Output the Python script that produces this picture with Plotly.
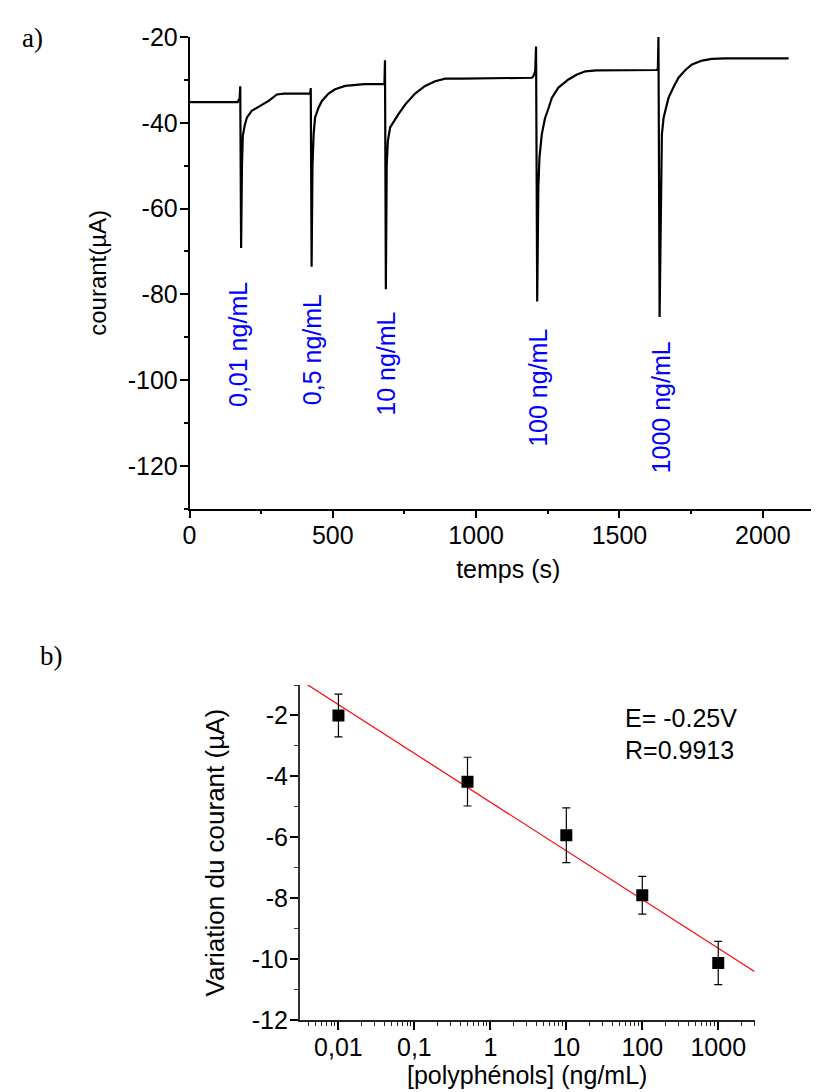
import numpy as np
import plotly.graph_objects as go

# ---------------- Data: panel a) chronoamperometry ----------------
time_s = [0, 168, 172, 175, 177, 180, 183, 186, 193, 200, 217, 241, 276, 305, 330,
          421, 423, 426, 429, 433, 438, 450, 462, 485, 508, 543, 578, 610,
          680, 682, 685, 688, 692, 700, 729, 753, 787, 822, 857, 892, 950,
          1195, 1200, 1206, 1209, 1213, 1217, 1221, 1229, 1240, 1253, 1264, 1287, 1322, 1350, 1381, 1420,
          1630, 1634, 1636, 1640, 1644, 1648, 1654, 1671, 1690, 1706, 1730, 1753, 1788, 1822, 1870, 2090]
current_uA = [-35.2, -35.2, -34.6, -34.4, -31.5, -69.2, -50.0, -43.0, -40.5, -38.8, -37.2, -36.3, -34.9, -33.4, -33.2,
              -33.2, -31.9, -73.6, -50.0, -42.7, -38.8, -36.5, -34.9, -33.2, -32.2, -31.4, -31.1, -31.0,
              -31.0, -25.4, -78.8, -50.0, -44.2, -41.1, -38.0, -35.7, -33.2, -31.4, -30.3, -29.7, -29.7,
              -29.5, -29.1, -28.0, -22.2, -81.7, -55.0, -48.0, -42.7, -39.0, -36.5, -34.2, -31.8, -29.9, -28.8, -28.0, -27.8,
              -27.7, -27.3, -20.0, -85.3, -55.0, -42.7, -38.8, -34.2, -31.5, -29.5, -27.7, -26.4, -25.5, -25.1, -25.0, -25.0]

time_ticks = [0, 500, 1000, 1500, 2000]
current_ticks = [-120, -100, -80, -60, -40, -20]
current_tick_text = ["-120", "-100", "-80", "-60", "-40", "-20"]

injection_labels = ["0,01 ng/mL", "0,5 ng/mL", "10 ng/mL", "100 ng/mL", "1000 ng/mL"]
injection_label_t = [171, 426, 687, 1218, 1646]
injection_label_y = [-91.7, -92.9, -96.1, -101.9, -106.3]

# ---------------- Data: panel b) calibration ----------------
conc_ng_mL = [0.01, 0.5, 10, 100, 1000]
delta_current_uA = [-2.0, -4.17, -5.93, -7.90, -10.12]
delta_err_uA = [0.70, 0.80, 0.90, 0.62, 0.71]

log_ticks = [0.01, 0.1, 1, 10, 100, 1000]
log_tick_text = ["0,01", "0,1", "1", "10", "100", "1000"]
delta_ticks = [-12, -10, -8, -6, -4, -2]
delta_tick_text = ["-12", "-10", "-8", "-6", "-4", "-2"]

# linear fit on log scale
slope, intercept = np.polyfit(np.log10(conc_ng_mL), delta_current_uA, 1)
fit_x = [0.0031, 3000]
fit_y = [intercept + slope * np.log10(v) for v in fit_x]

W, H = 819, 1092
FONT = "Liberation Sans, Arial, sans-serif"

fig = go.Figure()

fig.add_trace(go.Scatter(x=time_s, y=current_uA, mode="lines",
                         line=dict(color="black", width=2.2),
                         xaxis="x", yaxis="y", showlegend=False))

fig.add_trace(go.Scatter(x=fit_x, y=fit_y, mode="lines",
                         line=dict(color="red", width=1.2),
                         xaxis="x2", yaxis="y2", showlegend=False))

fig.add_trace(go.Scatter(x=conc_ng_mL, y=delta_current_uA, mode="markers",
                         marker=dict(symbol="square", size=12, color="black"),
                         error_y=dict(type="data", array=delta_err_uA, color="black",
                                      thickness=1.2, width=4),
                         xaxis="x2", yaxis="y2", showlegend=False))

axis_common = dict(showline=True, linecolor="black", linewidth=1.5, ticks="outside",
                   tickcolor="black", tickwidth=1.5, ticklen=8, showgrid=False,
                   zeroline=False, automargin=False,
                   tickfont=dict(family=FONT, size=25, color="black"))

annotations = []
for lab, t, y in zip(injection_labels, injection_label_t, injection_label_y):
    annotations.append(dict(x=t, y=y, xref="x", yref="y", text=lab, showarrow=False,
                            textangle=-90, font=dict(family=FONT, size=25, color="#0000ff"),
                            xanchor="center", yanchor="middle"))

annotations += [
    dict(x=12 / W, y=1 - 30 / H, xref="paper", yref="paper", text="a)", showarrow=False,
         xanchor="left", yanchor="middle", font=dict(family="Liberation Serif, Times New Roman, serif", size=27, color="black")),
    dict(x=30 / W, y=1 - 648 / H, xref="paper", yref="paper", text="b)", showarrow=False,
         xanchor="left", yanchor="middle", font=dict(family="Liberation Serif, Times New Roman, serif", size=27, color="black")),
    dict(x=615 / W, y=1 - 710 / H, xref="paper", yref="paper", text="E= -0.25V", showarrow=False,
         xanchor="left", yanchor="middle", font=dict(family=FONT, size=25, color="black")),
    dict(x=615 / W, y=1 - 742 / H, xref="paper", yref="paper", text="R=0.9913", showarrow=False,
         xanchor="left", yanchor="middle", font=dict(family=FONT, size=25, color="black")),
]

fig.update_layout(
    width=W, height=H,
    margin=dict(l=0, r=0, t=0, b=0),
    paper_bgcolor="white", plot_bgcolor="white",
    font=dict(family=FONT, color="black"),
    xaxis=dict(axis_common, domain=[181.5 / W, 1.0], range=[0, 2224],
               tickvals=time_ticks, ticklabelstandoff=-4,
               minor=dict(dtick=250, tick0=0, ticks="outside", ticklen=4, tickcolor="black", tickwidth=1.5),
               title=dict(text="temps (s)", font=dict(family=FONT, size=25), standoff=12),
               anchor="y"),
    yaxis=dict(axis_common, domain=[1 - 500.7 / H, 1 - 29 / H], range=[-130, -20],
               tickvals=current_ticks, ticktext=current_tick_text, ticklabelstandoff=-3,
               minor=dict(dtick=10, tick0=0, ticks="outside", ticklen=4, tickcolor="black", tickwidth=1.5),
               title=dict(text="courant(µA)", font=dict(family=FONT, size=24), standoff=14),
               anchor="x"),
    xaxis2=dict(axis_common, type="log", domain=[291.7 / W, 746.7 / W], range=[-2.51, 3.48],
                tickvals=log_ticks, ticktext=log_tick_text, linecolor="#222", ticklabelstandoff=-4,
                minor=dict(dtick="D1", ticks="outside", ticklen=4, tickcolor="#222", tickwidth=1.2),
                title=dict(text="[polyphénols] (ng/mL)", font=dict(family=FONT, size=25), standoff=4),
                anchor="y2"),
    yaxis2=dict(axis_common, domain=[1 - 1012.3 / H, 1 - 677 / H], range=[-12, -1],
                tickvals=delta_ticks, ticktext=delta_tick_text, linecolor="#333", ticklabelstandoff=-3,
                minor=dict(dtick=1, tick0=0, ticks="outside", ticklen=4, tickcolor="#333", tickwidth=1.2),
                title=dict(text="Variation du courant (µA)", font=dict(family=FONT, size=26), standoff=20),
                anchor="x2"),
    annotations=annotations,
)

fig.write_html("out.html")
